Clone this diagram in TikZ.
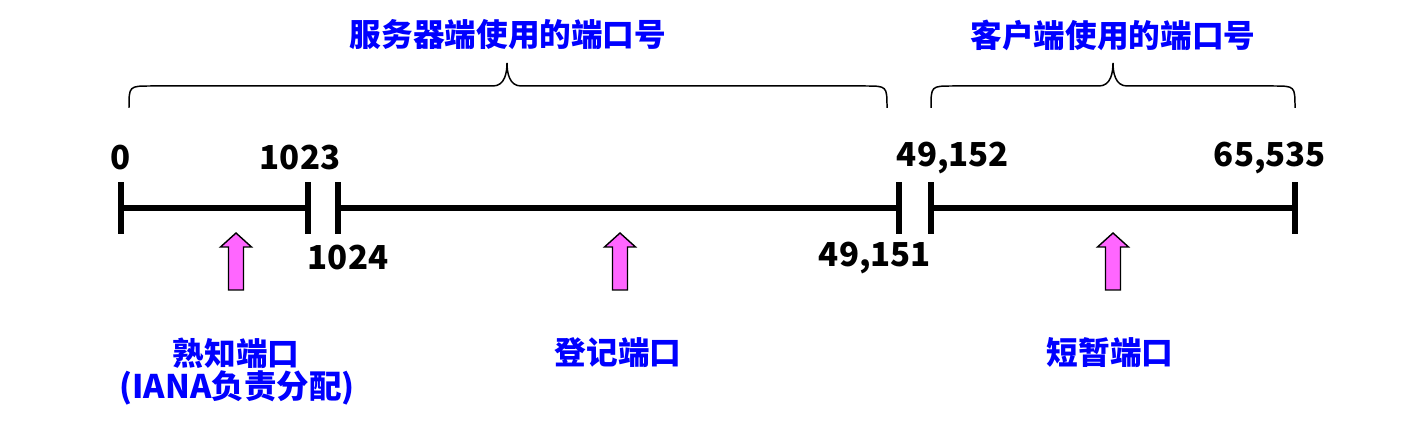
\documentclass[tikz,border=0pt]{standalone}
\usepackage{fontspec}
\setmainfont{Noto Sans CJK SC}
\begin{document}
\begin{tikzpicture}[x=0.02cm,y=-0.02cm,
  axis/.style={line width=2.9pt},
  brace/.style={line width=0.85pt},
  num/.style={font=\fontsize{18.8}{22}\selectfont\bfseries, inner sep=0pt},
  lab/.style={font=\fontsize{18}{22}\selectfont\bfseries, text=labblue, inner sep=0pt, align=center},
  pinkarrow/.style={fill=arrowpink, draw=black, line width=0.8pt, line join=miter},
  pics/uparrow/.style={code={
    \path[pinkarrow] (0,0) -- (15.5,14) -- (7.5,14) -- (7.5,57) -- (-7.5,57) -- (-7.5,14) -- (-15.5,14) -- cycle;
  }}]
\definecolor{labblue}{RGB}{0,0,255}
\definecolor{arrowpink}{RGB}{255,102,255}
\useasboundingbox (0,0) rectangle (1406,425);
% axis coordinates
\coordinate (p0) at (121,208);
\coordinate (p1) at (308,208);
\coordinate (p2) at (338,208);
\coordinate (p3) at (899,208);
\coordinate (p4) at (931,208);
\coordinate (p5) at (1295,208);
\draw[axis] (p0) -- (p1);
\draw[axis] (p2) -- (p3);
\draw[axis] (p4) -- (p5);
\foreach \p in {p0,p1,p2,p3,p4,p5}
  \draw[axis] ([yshift=0.52cm]\p) -- ([yshift=-0.52cm]\p);
% numbers
\node[num] (n0) at (121,158) {0};
\node[num] (n1023) at (300,158) {1023};
\node[num] (n1024) at (348,258) {1024};
\node[num] (n49151) at (875,258) {49,151};
\node[num] (n49152) at (953,158) {49,152};
\node[num] (n65535) at (1270,158) {65,535};
% braces
\draw[brace] (129,108) .. controls (129,86) .. (151,86) -- (493,86)
  .. controls (505,86) and (507,72) .. (507,63)
  .. controls (507,72) and (509,86) .. (521,86) -- (865,86)
  .. controls (887,86) .. (887,108);
\draw[brace] (931,108) .. controls (931,86) .. (953,86) -- (1099,86)
  .. controls (1111,86) and (1113,72) .. (1113,63)
  .. controls (1113,72) and (1115,86) .. (1127,86) -- (1273,86)
  .. controls (1295,86) .. (1295,108);
\node[lab] (server) at (508,35) {服务器端使用的端口号};
\node[lab] (client) at (1113,35) {客户端使用的端口号};
% arrows
\pic at (236,233) {uparrow};
\pic at (620,233) {uparrow};
\pic at (1113,233) {uparrow};
% bottom labels
\node[lab] (wk) at (236,353) {熟知端口};
\node[lab, font=\fontsize{18.5}{22}\selectfont\bfseries] (iana) at (237,388) {(IANA负责分配)};
\node[lab] (reg) at (618,353) {登记端口};
\node[lab] (eph) at (1110,353) {短暂端口};
\end{tikzpicture}
\end{document}
